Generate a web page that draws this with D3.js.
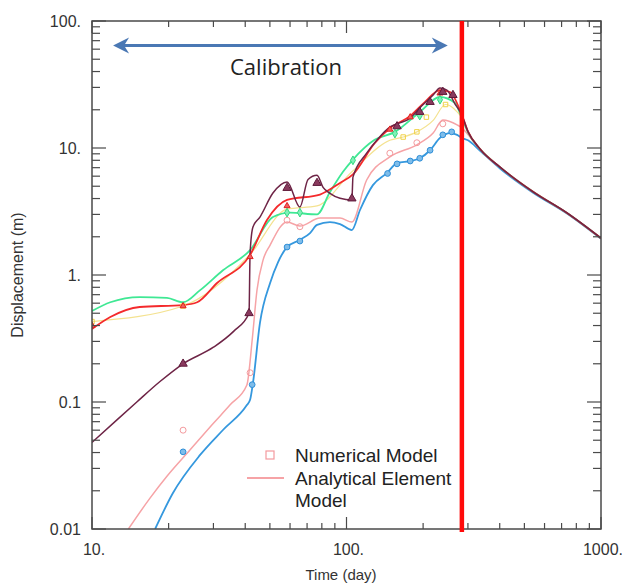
<!DOCTYPE html>
<html><head><meta charset="utf-8">
<script src="https://cdn.jsdelivr.net/npm/d3@7"></script>
<style>body{margin:0;background:#fff}svg{display:block}</style>
</head><body>
<script>
// ---------- data ----------
const xTickValues = [10, 100, 1000];
const xTickLabels = ["10.", "100.", "1000."];
const yTickValues = [0.01, 0.1, 1, 10, 100];
const yTickLabels = ["0.01", "0.1", "1.", "10.", "100."];
const calibrationEnd = 284; // day of red vertical line
const calibrationArrow = [12.1, 250];

const maroonT = [10, 12.5, 15, 18.5, 22.8, 30, 36, 41.4, 41.8, 42.9, 45.7, 51.4, 58.4, 65.6, 70.6, 76.6, 80.9, 86.1, 94.3, 105, 106, 120, 132, 148, 158, 178, 194, 219, 233, 248, 267, 284, 300, 335, 401, 541, 735, 1000];
const maroonV = [0.048, 0.072, 0.1, 0.145, 0.2, 0.27, 0.36, 0.5, 1.49, 2.39, 2.86, 4.42, 5.4, 3.43, 5.65, 6.1, 4.9, 4.4, 4.02, 3.9, 5.9, 9.1, 11.6, 14.6, 15.5, 17.2, 20.7, 26.1, 29.7, 28.6, 22.2, 18.2, 13.5, 9.8, 7.07, 4.52, 3.08, 1.95];

const redT = [10, 11.8, 15.4, 22.8, 25.9, 31, 41.8, 48.7, 58.4, 78.7, 94.3, 106, 129, 148, 178, 203, 233, 255, 284, 300, 335, 401, 541, 735, 1000];
const redV = [0.376, 0.467, 0.56, 0.58, 0.61, 0.865, 1.44, 2.71, 3.9, 4.3, 5.3, 6.2, 10.9, 14.3, 17.9, 23, 28.6, 27.6, 18.2, 13.5, 9.8, 7.07, 4.52, 3.08, 1.95];

const greenT = [10, 11.8, 15.4, 19.7, 22.8, 26.6, 32.7, 41.8, 51.4, 60, 76.6, 86.1, 96.9, 106, 129, 155, 194, 233, 267, 284, 300, 335, 401, 541, 735, 1000];
const greenV = [0.52, 0.61, 0.67, 0.66, 0.61, 0.76, 1.09, 1.57, 2.86, 3.1, 3.0, 4.5, 6.5, 8.1, 11.6, 13.4, 19.2, 25.2, 22.6, 17.2, 13.3, 9.8, 7.07, 4.52, 3.08, 1.95];

const yellowT = [10, 22.8, 41.8, 58.4, 76.6, 105, 148, 167, 189, 219, 245, 284];
const yellowV = [0.43, 0.57, 1.45, 3.3, 3.5, 6.5, 11.5, 12.2, 13.4, 16.5, 22, 17.5];

const pinkT = [13.9, 16.9, 19.7, 24.3, 30, 34.9, 40.6, 42.6, 44.5, 47, 50.1, 58.4, 65.6, 78.7, 94.3, 105, 120, 148, 189, 219, 239, 272, 284, 300, 335, 401, 541, 735, 1000];
const pinkV = [0.01, 0.0175, 0.026, 0.042, 0.068, 0.095, 0.136, 0.308, 0.762, 1.31, 1.72, 2.62, 2.43, 2.81, 2.81, 2.61, 5.6, 8.5, 10.6, 13.1, 16.6, 15.2, 14.4, 12.8, 9.7, 7.0, 4.5, 3.07, 1.94];

const blueT = [17.7, 20.8, 26.6, 32.7, 40.6, 41.8, 42.9, 45.7, 50.1, 53.8, 58.4, 65.6, 71.9, 76.6, 86.1, 94.3, 105, 113, 127, 144, 158, 178, 194, 213, 233, 255, 272, 284, 300, 335, 401, 541, 735, 1000];
const blueV = [0.01, 0.0192, 0.0383, 0.0602, 0.0946, 0.104, 0.141, 0.419, 0.865, 1.26, 1.66, 1.89, 2.14, 2.48, 2.61, 2.52, 2.26, 3.25, 5.1, 6.35, 7.6, 7.9, 8.3, 9.6, 12.0, 13.1, 12.7, 12.0, 11.5, 9.5, 6.9, 4.45, 3.05, 1.93];

// Numerical model observations (markers)
const maroonMT = [22.8, 41.4, 58.4, 76.6, 105, 158, 194, 213, 239, 262];
const maroonMV = [0.2, 0.5, 4.84, 5.3, 4.0, 14.8, 19.2, 23.0, 27.6, 26.1];
const blueMT = [22.8, 42.6, 58.4, 65.6, 145, 158, 178, 194, 213, 239, 259];
const blueMV = [0.0405, 0.137, 1.66, 1.85, 6.3, 7.5, 7.9, 8.3, 9.6, 12.7, 13.4];
const pinkMT = [22.8, 41.8, 58.4, 65.6, 148, 189, 239];
const pinkMV = [0.060, 0.17, 2.7, 2.4, 9.1, 11.0, 15.5];
const redMT = [10, 22.8, 41.8, 58.4, 148, 178, 233];
const redMV = [0.4, 0.57, 1.39, 3.5, 14.0, 17.5, 27.0];
const greenMT = [58.4, 65.6, 106, 155, 194, 233];
const greenMV = [3.1, 3.1, 8.0, 13.0, 18.0, 24.0];
const yellowMT = [10, 22.8, 167, 189, 206, 245];
const yellowMV = [0.43, 0.57, 12.2, 13.4, 17.5, 22.0];

// ---------- layout ----------
const W = 622, H = 588;
const svg = d3.select("body").append("svg").attr("width", W).attr("height", H);
const x = d3.scaleLog().domain([10, 1000]).range([92, 601]);
const y = d3.scaleLog().domain([0.01, 100]).range([529, 21]);
const [x0, x1] = x.range(), [y0, y1] = y.range();
const font = "'Liberation Sans', Arial, sans-serif";

svg.append("defs").append("clipPath").attr("id", "clip")
  .append("rect").attr("x", x0).attr("y", y1).attr("width", x1 - x0).attr("height", y0 - y1);

const plot = svg.append("g").attr("clip-path", "url(#clip)");
const zip = (T, V) => T.map((t, i) => [t, V[i]]);
const line = d3.line().x(d => x(d[0])).y(d => y(d[1])).curve(d3.curveMonotoneX);

const series = [
  {T: yellowT, V: yellowV, c: "#f4e290", w: 1.2},
  {T: pinkT, V: pinkV, c: "#f6a3a6", w: 1.5},
  {T: blueT, V: blueV, c: "#3598de", w: 1.8},
  {T: greenT, V: greenV, c: "#3fe894", w: 1.8},
  {T: redT, V: redV, c: "#f42a2c", w: 1.8},
  {T: maroonT, V: maroonV, c: "#6e2446", w: 1.5}
];
series.forEach(s => {
  plot.append("path").datum(zip(s.T, s.V)).attr("d", line)
    .attr("fill", "none").attr("stroke", s.c).attr("stroke-width", s.w).attr("stroke-linejoin", "round");
});

// markers
const markers = [
  {T: yellowMT, V: yellowMV, c: "#f0d24a", sym: d3.symbolSquare, s: 20, fill: "none"},
  {T: pinkMT, V: pinkMV, c: "#f49a9e", sym: d3.symbolCircle, s: 28, fill: "none"},
  {T: blueMT, V: blueMV, c: "#2f8fd8", sym: d3.symbolCircle, s: 26, fill: "#7fbdea"},
  {T: greenMT, V: greenMV, c: "#32d97f", sym: d3.symbolDiamond, s: 22, fill: "#7ff0b8"},
  {T: redMT, V: redMV, c: "#e02020", sym: d3.symbolTriangle, s: 16, fill: "#f06060"},
  {T: maroonMT, V: maroonMV, c: "#5e1a3a", sym: d3.symbolTriangle, s: 30, fill: "#8a3a5e"}
];
markers.forEach(m => {
  plot.selectAll(null).data(zip(m.T, m.V)).enter().append("path")
    .attr("d", d3.symbol().type(m.sym).size(m.s))
    .attr("transform", d => `translate(${x(d[0])},${y(d[1])})`)
    .attr("fill", m.fill).attr("stroke", m.c).attr("stroke-width", 1);
});

// ---------- frame and ticks ----------
const axisC = "#4a4a4a";
svg.append("rect").attr("x", x0).attr("y", y1).attr("width", x1 - x0).attr("height", y0 - y1)
  .attr("fill", "none").attr("stroke", axisC).attr("stroke-width", 1.5);
const isMajor = v => Math.abs(Math.log10(v) - Math.round(Math.log10(v))) < 1e-6;
const tg = svg.append("g").attr("stroke", axisC).attr("stroke-width", 1.2);
x.ticks().forEach(v => {
  const px = x(v), L = isMajor(v) ? 12 : 6;
  tg.append("line").attr("x1", px).attr("x2", px).attr("y1", y0).attr("y2", y0 - L);
  tg.append("line").attr("x1", px).attr("x2", px).attr("y1", y1).attr("y2", y1 + L);
});
y.ticks().forEach(v => {
  const py = y(v), L = isMajor(v) ? 14 : 8;
  tg.append("line").attr("x1", x0).attr("x2", x0 + L).attr("y1", py).attr("y2", py);
  tg.append("line").attr("x1", x1).attr("x2", x1 - L).attr("y1", py).attr("y2", py);
});

// tick labels
svg.selectAll(null).data(xTickValues).enter().append("text")
  .attr("x", d => x(d) + 2).attr("y", 555).attr("text-anchor", "middle")
  .attr("font-family", font).attr("font-size", 16).attr("fill", "#333")
  .text((d, i) => xTickLabels[i]);
svg.selectAll(null).data(yTickValues).enter().append("text")
  .attr("x", 81).attr("y", d => y(d) + 6).attr("text-anchor", "end")
  .attr("font-family", font).attr("font-size", 16).attr("fill", "#333")
  .text((d, i) => yTickLabels[i]);

// axis titles
svg.append("text").attr("x", 341).attr("y", 580).attr("text-anchor", "middle")
  .attr("font-family", font).attr("font-size", 15).attr("fill", "#333").text("Time (day)");
svg.append("text").attr("transform", "translate(23,275) rotate(-90)").attr("text-anchor", "middle")
  .attr("font-family", font).attr("font-size", 16).attr("fill", "#333").text("Displacement (m)");

// ---------- red line (end of calibration) ----------
svg.append("line").attr("x1", x(calibrationEnd)).attr("x2", x(calibrationEnd))
  .attr("y1", y1).attr("y2", y0 + 3).attr("stroke", "#ff0a0a").attr("stroke-width", 4.5);

// ---------- calibration arrow ----------
const ay = 45.5, ax0 = x(calibrationArrow[0]), ax1 = x(calibrationArrow[1]);
const arrowC = "#4a78b4";
svg.append("line").attr("x1", ax0 + 6).attr("x2", ax1 - 6).attr("y1", ay).attr("y2", ay)
  .attr("stroke", arrowC).attr("stroke-width", 3);
const head = (tip, dir) => {
  const b = tip + dir * 16, n = tip + dir * 11;
  return `M${tip},${ay} L${b},${ay - 8} L${n},${ay} L${b},${ay + 8} Z`;
};
svg.append("path").attr("d", head(ax0, 1)).attr("fill", arrowC);
svg.append("path").attr("d", head(ax1, -1)).attr("fill", arrowC);
svg.append("text").attr("x", 286).attr("y", 75).attr("text-anchor", "middle")
  .attr("font-family", "'Open Sans', sans-serif").attr("font-size", 22).attr("fill", "#222").text("Calibration");

// ---------- legend ----------
const lg = svg.append("g").attr("font-family", font).attr("font-size", 19).attr("fill", "#222");
lg.append("rect").attr("x", 266).attr("y", 451).attr("width", 8).attr("height", 8)
  .attr("fill", "none").attr("stroke", "#f49a9e").attr("stroke-width", 1.2);
lg.append("line").attr("x1", 247).attr("x2", 284).attr("y1", 478).attr("y2", 478)
  .attr("stroke", "#f6a3a6").attr("stroke-width", 2);
lg.append("text").attr("x", 295).attr("y", 462).text("Numerical Model");
lg.append("text").attr("x", 295).attr("y", 485).text("Analytical Element");
lg.append("text").attr("x", 295).attr("y", 507).text("Model");
</script>
</body></html>
